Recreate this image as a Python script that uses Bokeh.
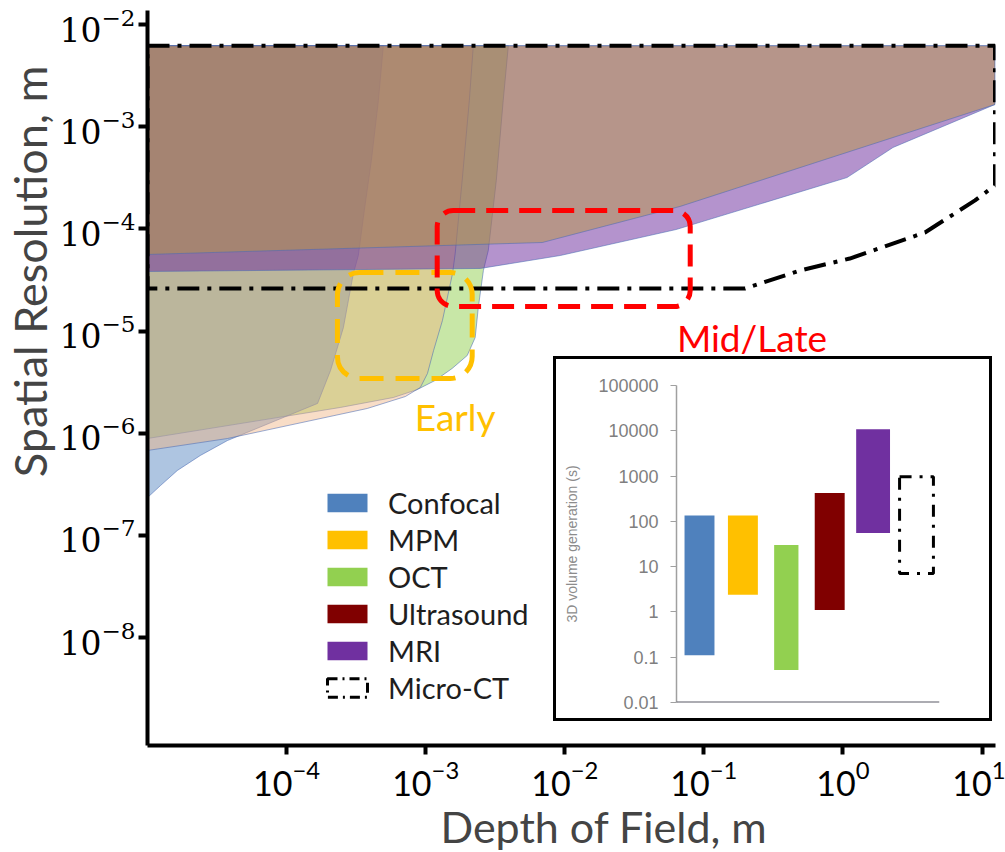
from bokeh.plotting import figure
from bokeh.models import (FixedTicker, Title, Legend, LegendItem, NumeralTickFormatter,
                          FactorRange, Span)
from bokeh.layouts import column
from bokeh.core.properties import value
from bokeh.embed import file_html
from bokeh.resources import INLINE

NAN = float("nan")

# ---------------- main chart data: depth of field (m) vs spatial resolution (m) ----------------
confocal_dof = [1e-5, 4.96e-4, 4.57e-4, 4.07e-4, 3.62e-4, 3.28e-4, 3.02e-4, 2.56e-4, 2.07e-4,
                1.67e-4, 3.76e-5, 2.4e-5, 1.64e-5, 1.24e-5, 1e-5]
confocal_res = [6.2e-3, 6.2e-3, 1.8e-3, 4.67e-4, 1.51e-4, 5.49e-5, 3.66e-5, 1.08e-5, 4.12e-6,
                1.96e-6, 8.5e-7, 6.07e-7, 4.33e-7, 3.08e-7, 2.35e-7]

mpm_dof = [1e-5, 2.2e-3, 2.06e-3, 1.83e-3, 1.63e-3, 1.56e-3, 1.32e-3, 1.14e-3, 1.03e-3,
           9.16e-4, 7.15e-4, 3.81e-4, 3.76e-5, 1e-5]
mpm_res = [6.2e-3, 6.2e-3, 1.8e-3, 2.98e-4, 5.74e-5, 3.66e-5, 1.27e-5, 6.46e-6, 3.85e-6,
           2.81e-6, 2.29e-6, 1.75e-6, 8.89e-7, 6.79e-7]

oct_dof = [1e-5, 3.93e-3, 3.61e-3, 3.22e-3, 2.82e-3, 2.6e-3, 2.39e-3, 2.27e-3, 1.99e-3,
           1.55e-3, 1.17e-3, 8.71e-4, 5.86e-4, 2.44e-4, 1e-5]
oct_res = [6.2e-3, 6.2e-3, 1.8e-3, 2.98e-4, 6.15e-5, 3.92e-5, 1.7e-5, 8.66e-6, 5.77e-6,
           4.31e-6, 3.29e-6, 2.68e-6, 2.24e-6, 1.79e-6, 8.89e-7]

mri_dof = [1e-5, 12.4, 12.4, 2.29, 1.07, 0.0632, 9.29e-3, 2.47e-3, 1e-5]
mri_res = [6.2e-3, 6.2e-3, 1.65e-3, 6.26e-4, 3.18e-4, 9.86e-5, 5.49e-5, 4.1e-5, 3.83e-5]

us_dof = [1e-5, 12.4, 12.4, 0.0676, 6.89e-3, 1e-5]
us_res = [6.2e-3, 6.2e-3, 1.65e-3, 1.66e-4, 7.36e-5, 5.62e-5]

ct_dof = [1e-5, 12.4, 12.4, 8.91, 3.89, 1.12, 0.492, 0.198, 1e-5, 1e-5]
ct_res = [6.2e-3, 6.2e-3, 2.66e-4, 1.9e-4, 9.22e-5, 5.13e-5, 3.92e-5, 2.61e-5, 2.61e-5, 6.2e-3]

# stage boxes: [left, right, bottom, top]
early_box = [2.32e-4, 2.16e-3, 3.44e-6, 3.74e-5]
midlate_box = [1.21e-3, 0.0798, 1.74e-5, 1.51e-4]
stage_labels = ["Early", "Mid/Late"]
stage_label_x = [1.63e-3, 0.222]
stage_label_y = [1.46e-6, 8.66e-6]

x_ticks = [1e-4, 1e-3, 1e-2, 1e-1, 1e0, 1e1]
y_ticks = [1e-8, 1e-7, 1e-6, 1e-5, 1e-4, 1e-3, 1e-2]

# ---------------- inset data: 3D volume generation time (s) ----------------
modalities = ["Confocal", "MPM", "OCT", "Ultrasound", "MRI", "Micro-CT"]
time_low = [0.11, 2.4, 0.052, 1.1, 55, 7.1]
time_high = [134, 134, 30, 424, 10800, 970]
inset_ticks = [0.01, 0.1, 1, 10, 100, 1000, 10000, 100000]

solid_colors = ["#4F81BD", "#FFC000", "#92D050", "#800000", "#7030A0"]

# ---------------- main figure ----------------
p = figure(width=1005, height=852, x_axis_type="log", y_axis_type="log",
           x_range=(1e-5, 12.5), y_range=(8.81e-10, 1.371e-2),
           toolbar_location=None, output_backend="svg", frame_align=False,
           min_border_left=147, min_border_right=10, min_border_top=10, min_border_bottom=107,
           background_fill_color="white", border_fill_color="white", outline_line_color=None)
p.grid.visible = False

def region(dof, res, color, alpha):
    p.patch(dof, res, fill_color=color, fill_alpha=alpha,
            line_color="#4a6bb5", line_alpha=0.55, line_width=1)

region(oct_dof, oct_res, "#92D050", 0.5)
region(confocal_dof, confocal_res, "#4F81BD", 0.46)
region(mpm_dof, mpm_res, "#F0B482", 0.45)
region(mri_dof, mri_res, "#7030A0", 0.52)
region(us_dof, us_res, "#B89848", 0.5)

p.line(ct_dof, ct_res, line_color="black", line_width=4, line_dash="22 8 4 8")

p.quad(left=[early_box[0]], right=[early_box[1]], bottom=[early_box[2]], top=[early_box[3]],
       fill_color=None, line_color="#FFC000", line_width=5, line_dash="24 12", border_radius=22)
p.quad(left=[midlate_box[0]], right=[midlate_box[1]], bottom=[midlate_box[2]], top=[midlate_box[3]],
       fill_color=None, line_color="#FF0000", line_width=5, line_dash="22 11", border_radius=16)

p.text(x=stage_label_x, y=stage_label_y, text=stage_labels,
       text_color=["#FFC000", "#FF0000"], text_font=value("Lato"), text_font_size="37px",
       text_align="center", text_baseline="middle")

for ax, font, size, ticks, standoff in ((p.xaxis[0], "Lato", "34px", x_ticks, 6),
                                        (p.yaxis[0], "DejaVu Serif", "33px", y_ticks, 3)):
    ax.ticker = FixedTicker(ticks=ticks)
    ax.axis_line_width = 4
    ax.axis_line_color = "black"
    ax.major_tick_line_width = 4
    ax.major_tick_line_color = "black"
    ax.major_tick_out = 9
    ax.major_tick_in = 0
    ax.minor_tick_line_color = None
    ax.major_label_text_font = font
    ax.major_label_text_font_size = size
    ax.major_label_text_color = "black"
    ax.major_label_standoff = standoff

p.add_layout(Title(text="Depth of Field, m", align="left", offset=293, text_font="Lato",
                   text_font_size="43px", text_font_style="normal", standoff=0), "below")
p.add_layout(Title(text="Spatial Resolution, m", align="right", offset=55, text_font="Lato",
                   text_font_size="45px", text_font_style="normal", standoff=0), "left")

# legend (solid swatches like the reference legend; swatch renderers hold no drawable point)
items = []
for name, col in zip(modalities[:5], solid_colors):
    r = p.quad(left=[NAN], right=[NAN], top=[NAN], bottom=[NAN], fill_color=col, line_color=None)
    items.append(LegendItem(label=name, renderers=[r]))
r = p.quad(left=[NAN], right=[NAN], top=[NAN], bottom=[NAN], fill_color=None, line_color="black",
           line_width=3, line_dash="10 5 2 5")
items.append(LegendItem(label=modalities[5], renderers=[r]))
legend = Legend(items=items, location=(175, 40), glyph_width=50, glyph_height=23,
                label_standoff=16, spacing=2, padding=0, margin=0,
                border_line_color=None, background_fill_alpha=0,
                label_text_font="Lato", label_text_font_size="29px", label_text_color="#1e1e1e")
p.add_layout(legend)

# ---------------- inset figure ----------------
ins = figure(width=433, height=359,
             x_range=FactorRange(*modalities, range_padding=0.03, range_padding_units="absolute"),
             y_axis_type="log", y_range=(0.01, 1e5), toolbar_location=None,
             output_backend="svg", frame_align=False,
             min_border_left=120, min_border_right=50, min_border_top=26, min_border_bottom=16,
             outline_line_color=None, background_fill_color="white", border_fill_color="white",
             margin=(-493, 0, 0, 556), styles={"outline": "3px solid black"})
ins.grid.visible = False
ins.xaxis.visible = False
ins.add_layout(Span(location=inset_ticks[0], dimension="width", line_color="#5a5a66", line_width=2))
ins.vbar(x=modalities[:5], bottom=time_low[:5], top=time_high[:5],
         width=[0.69, 0.69, 0.56, 0.69, 0.78],
         fill_color=solid_colors, line_color=None)
ins.vbar(x=[modalities[5]], bottom=[time_low[5]], top=[time_high[5]], width=0.78,
         fill_color=None, line_color="black", line_width=3, line_dash="12 8 3 8")

ya = ins.yaxis[0]
ya.ticker = FixedTicker(ticks=inset_ticks)
ya.formatter = NumeralTickFormatter(format="0.[00]")
ya.axis_line_color = "#a0a0a0"
ya.axis_line_width = 1.5
ya.major_tick_line_color = "#a0a0a0"
ya.major_tick_out = 6
ya.major_tick_in = 0
ya.minor_tick_line_color = None
ya.major_label_text_font = "Liberation Sans"
ya.major_label_text_font_size = "18px"
ya.major_label_text_color = "#7f7f7f"
ya.major_label_standoff = 12
ya.axis_label = "3D volume generation (s)"
ya.axis_label_text_font = "Liberation Sans"
ya.axis_label_text_font_size = "14px"
ya.axis_label_text_font_style = "normal"
ya.axis_label_text_color = "#8c8c8c"
ya.axis_label_standoff = 15

layout = column(p, ins)
open("out.html", "w").write(file_html(layout, INLINE))
